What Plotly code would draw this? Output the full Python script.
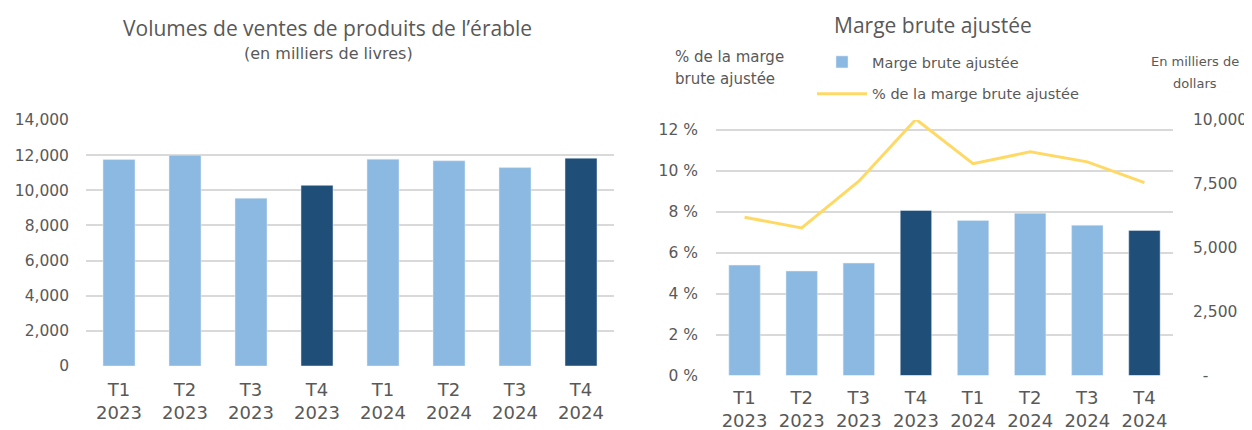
import plotly.graph_objects as go

# données
quarters = ["T1<br>2023", "T2<br>2023", "T3<br>2023", "T4<br>2023",
            "T1<br>2024", "T2<br>2024", "T3<br>2024", "T4<br>2024"]
volumes = [11750, 12000, 9550, 10280, 11770, 11680, 11290, 11830]
marge = [4320, 4090, 4400, 6460, 6070, 6350, 5880, 5680]
marge_pct = [7.72, 7.20, 9.48, 12.50, 10.33, 10.91, 10.42, 9.41]

pct_ticks = [0, 2, 4, 6, 8, 10, 12]
pct_labels = ["0 %", "2 %", "4 %", "6 %", "8 %", "10 %", "12 %"]
dollar_ticks = [0, 2500, 5000, 7500, 10000]
dollar_labels = ["\u00a0\u00a0-", "2,500", "5,000", "7,500", "10,000"]

LIGHT = "#8CB9E1"
DARK = "#1F4E79"
YELLOW = "#FFD966"
GRID = "#D9D9D9"
TXT = "#595959"
FONT = "DejaVu Sans"
TITLE_FONT = "Open Sans"

# la page html ajoute une marge de 8 px autour du graphique
W, H, OFF = 1244, 422, 8


def fx(x):
    return (x - OFF) / W


def fy(y):
    return 1 - (y - OFF) / H


colors = [DARK if q.startswith("T4") else LIGHT for q in quarters]

fig = go.Figure()

fig.add_trace(go.Bar(x=quarters, y=volumes, marker_color=colors, width=0.485,
                     xaxis="x", yaxis="y", showlegend=False, hoverinfo="x+y"))

fig.add_trace(go.Bar(x=quarters, y=marge, marker_color=colors, width=0.55,
                     name="Marge brute ajustée", legendgroup="a",
                     xaxis="x2", yaxis="y2"))
fig.add_trace(go.Scatter(x=quarters, y=marge_pct, mode="lines",
                         line=dict(color=YELLOW, width=3),
                         name="% de la marge brute ajustée", legendgroup="b",
                         xaxis="x2", yaxis="y3"))

xcommon = dict(showgrid=False, showline=False, ticks="", zeroline=False,
               tickfont=dict(size=18, color=TXT), automargin=False)
ycommon = dict(zeroline=False, showline=False, ticks="", automargin=False,
               tickfont=dict(size=15.5, color=TXT))


def note(text, x, y, size, family=FONT):
    return dict(text=text, x=fx(x), y=fy(y), xref="paper", yref="paper",
                xanchor="center", yanchor="middle", showarrow=False,
                font=dict(size=size, color=TXT, family=family))


fig.update_layout(
    width=W, height=H,
    margin=dict(l=0, r=0, t=0, b=0, autoexpand=False),
    paper_bgcolor="white", plot_bgcolor="white",
    font=dict(family=FONT, color=TXT),
    xaxis=dict(domain=[fx(86), fx(614)], anchor="y", ticklabelstandoff=11, **xcommon),
    yaxis=dict(domain=[fy(366), fy(120)], range=[0, 14000], dtick=2000,
               tickformat=",d", showgrid=True, gridcolor=GRID, gridwidth=2,
               ticklabelstandoff=16, **ycommon),
    xaxis2=dict(domain=[fx(716), fx(1173)], anchor="y2", ticklabelstandoff=9, **xcommon),
    yaxis2=dict(domain=[fy(375.5), fy(120)], range=[0, 10000], side="right",
                anchor="x2", tickvals=dollar_ticks, ticktext=dollar_labels,
                showgrid=False, ticklabelstandoff=19, **ycommon),
    yaxis3=dict(overlaying="y2", side="left", anchor="x2",
                range=[0, (375.5 - 120) / 20.5], tickvals=pct_ticks, ticktext=pct_labels,
                showgrid=True, gridcolor=GRID, gridwidth=2,
                ticklabelstandoff=17, **ycommon),
    legend=dict(x=fx(812), y=fy(46), xanchor="left", yanchor="top",
                font=dict(size=14.5, color=TXT), itemwidth=50,
                tracegroupgap=10, bgcolor="rgba(0,0,0,0)"),
    annotations=[
        note("Volumes de ventes de produits de l’érable", 327, 28, 21, TITLE_FONT),
        note("(en milliers de livres)", 329, 53, 16),
        note("Marge brute ajustée", 933, 25, 21, TITLE_FONT),
        dict(text="% de la marge", x=fx(673), y=fy(57), xref="paper", yref="paper",
             xanchor="left", yanchor="middle", showarrow=False,
             font=dict(size=15, color=TXT)),
        dict(text="brute ajustée", x=fx(673), y=fy(79), xref="paper", yref="paper",
             xanchor="left", yanchor="middle", showarrow=False,
             font=dict(size=15, color=TXT)),
        note("En milliers de", 1195, 62, 13),
        note("dollars", 1195, 83, 13),
    ],
)

fig.write_html("out.html")
